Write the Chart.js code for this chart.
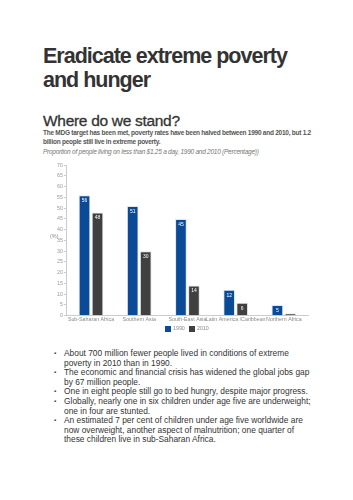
<!DOCTYPE html>
<html>
<head>
<meta charset="utf-8">
<script src="https://cdn.jsdelivr.net/npm/chart.js@4.4.1/dist/chart.umd.min.js"></script>
<style>
  body { margin: 0; background: #fff; font-family: "Liberation Sans", Arial, sans-serif; color: #333; }
  #page { position: relative; width: 353px; height: 500px; overflow: hidden; }
  h1 { position: absolute; left: 43px; top: 44px; margin: 0; font-size: 21.5px; line-height: 24px; font-weight: bold; letter-spacing: -1px; }
  h2 { position: absolute; left: 43px; top: 111px; margin: 0; font-size: 15.5px; line-height: 19px; font-weight: normal; letter-spacing: -0.3px; -webkit-text-stroke: 0.3px #333; }
  .lead { position: absolute; left: 43px; top: 129px; width: 272px; margin: 0; font-size: 6.5px; line-height: 8.5px; font-weight: bold; color: #555; letter-spacing: -0.25px; }
  .sub { position: absolute; left: 43px; top: 146.5px; margin: 0; font-size: 6.5px; line-height: 9px; font-style: italic; color: #777; letter-spacing: -0.25px; }
  #wrap { position: absolute; left: 30px; top: 161px; width: 290px; height: 184px; }
  ul { position: absolute; left: 0; top: 349px; width: 250px; margin: 0; padding-left: 64px; font-size: 8.4px; line-height: 9.6px; }
  li { list-style: none; position: relative; }
  li::before { content: "\25AA"; position: absolute; left: -10px; font-size: 6px; }
</style>
</head>
<body>
<div id="page">
  <h1>Eradicate extreme poverty<br>and hunger</h1>
  <h2>Where do we stand?</h2>
  <p class="lead">The MDG target has been met, poverty rates have been halved between 1990 and 2010, but 1.2 billion people still live in extreme poverty.</p>
  <p class="sub">Proportion of people living on less than $1.25 a day, 1990 and 2010 (Percentage))</p>
  <div id="wrap"><canvas id="c" width="290" height="184"></canvas></div>
  <ul>
    <li>About 700 million fewer people lived in conditions of extreme poverty in 2010 than in 1990.</li>
    <li>The economic and financial crisis has widened the global jobs gap by 67 million people.</li>
    <li>One in eight people still go to bed hungry, despite major progress.</li>
    <li>Globally, nearly one in six children under age five are underweight; one in four are stunted.</li>
    <li>An estimated 7 per cent of children under age five worldwide are now overweight, another aspect of malnutrition; one quarter of these children live in sub-Saharan Africa.</li>
  </ul>
</div>
<script>
const regions = ['Sub-Saharan Africa', 'Southern Asia', 'South-East Asia', 'Latin America /Caribbean', 'Northern Africa'];
const values1990 = [56, 51, 45, 12, 5];
const values2010 = [48, 30, 14, 6, 1];
const yTicks = [0, 5, 10, 15, 20, 25, 30, 35, 40, 45, 50, 55, 60, 65, 70];

const FONT = '"Liberation Sans", Arial';

// white value labels at the top of each bar
const barLabels = {
  id: 'barLabels',
  afterDatasetsDraw(chart) {
    const ctx = chart.ctx;
    ctx.save();
    ctx.fillStyle = '#fff';
    ctx.font = '5px ' + FONT;
    ctx.textAlign = 'center';
    ctx.textBaseline = 'top';
    chart.data.datasets.forEach((ds, i) => {
      chart.getDatasetMeta(i).data.forEach((bar, j) => {
        if (bar.base - bar.y < 8) return;
        ctx.fillText(ds.data[j], bar.x, bar.y + 3);
      });
    });
    ctx.restore();
  }
};

// horizontal "(%)" axis title
const yTitle = {
  id: 'yTitle',
  afterDraw(chart) {
    const ctx = chart.ctx;
    const y = chart.scales.y;
    ctx.save();
    ctx.fillStyle = '#888';
    ctx.font = '5.5px ' + FONT;
    ctx.textBaseline = 'middle';
    ctx.fillText('(%)', 20, y.getPixelForValue(37));
    ctx.restore();
  }
};

// legend with wider spacing than the built-in one allows
const wideLegend = {
  id: 'wideLegend',
  afterDraw(chart) {
    const ctx = chart.ctx;
    const cy = chart.height - 16;
    let x = 135;
    ctx.save();
    ctx.font = '5.3px ' + FONT;
    ctx.textBaseline = 'middle';
    chart.data.datasets.forEach((ds) => {
      ctx.fillStyle = ds.backgroundColor;
      ctx.fillRect(x, cy - 3, 6, 6);
      ctx.fillStyle = '#888';
      ctx.fillText(ds.label, x + 8, cy);
      x += 24;
    });
    ctx.restore();
  }
};

new Chart(document.getElementById('c'), {
  type: 'bar',
  data: {
    labels: regions,
    datasets: [
      { label: '1990', data: values1990, backgroundColor: '#0b4a96', borderColor: '#dfe6ef', borderWidth: 1 },
      { label: '2010', data: values2010, backgroundColor: '#404040', borderColor: '#e4e4e4', borderWidth: 1 }
    ]
  },
  options: {
    responsive: false,
    animation: false,
    layout: { padding: { left: 26, right: 12, top: 0, bottom: 21 } },
    categoryPercentage: 0.54,
    barPercentage: 0.9,
    plugins: {
      legend: { display: false },
      tooltip: { enabled: false }
    },
    scales: {
      x: {
        grid: { drawOnChartArea: false, drawTicks: false },
        border: { color: '#ccc' },
        ticks: { autoSkip: false, maxRotation: 0, padding: 1, color: '#888', font: { size: 5.3, family: FONT } }
      },
      y: {
        min: 0,
        max: 70,
        afterBuildTicks(scale) { scale.ticks = yTicks.map(v => ({ value: v })); },
        grid: { drawOnChartArea: false, drawTicks: true, tickLength: 3, color: '#ccc' },
        border: { color: '#ccc' },
        ticks: { padding: 1, color: '#999', font: { size: 5.3, family: FONT } }
      }
    }
  },
  plugins: [barLabels, yTitle, wideLegend]
});
</script>
</body>
</html>
